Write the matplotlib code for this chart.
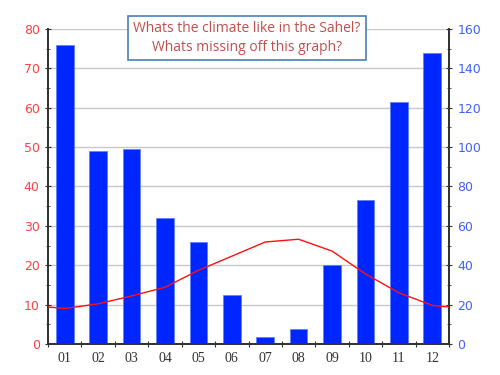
import matplotlib
matplotlib.use("Agg")
import matplotlib.pyplot as plt
import numpy as np
from matplotlib.ticker import MultipleLocator

months = ["01", "02", "03", "04", "05", "06", "07", "08", "09", "10", "11", "12"]
rainfall = [152, 98, 99, 64, 52, 25, 3.4, 7.5, 40, 73, 123, 148]
temperature = [9.0, 10.2, 12.2, 14.4, 18.7, 22.3, 25.9, 26.6, 23.6, 17.8, 13.0, 9.8]
title_lines = ["Whats the climate like in the Sahel?", "Whats missing off this graph?"]

fig = plt.figure(figsize=(5, 3.75), dpi=100)
ax = fig.add_axes([0.096, 0.0827, 0.802, 0.84])
ax2 = ax.twinx()

x = np.arange(len(months))
# bars on right axis
ax2.bar(x, rainfall, width=0.53, color="#0026ff", edgecolor="#6080ff", linewidth=0.6, zorder=2)
ax2.set_ylim(0, 160)
ax2.yaxis.set_major_locator(MultipleLocator(20))
ax2.yaxis.set_minor_locator(MultipleLocator(10))

# line on left axis; wraps to the plot edges using the Dec/Jan mean
edge = (temperature[0] + temperature[-1]) / 2
lx = np.concatenate([[-0.5], x, [len(months) - 0.5]])
ly = np.concatenate([[edge], temperature, [edge]])
ax.set_ylim(0, 80)
ax.yaxis.set_major_locator(MultipleLocator(10))
ax.yaxis.set_minor_locator(MultipleLocator(5))
ax.set_xlim(-0.5, len(months) - 0.5)
ax.grid(axis="y", color="#c8c8c8", linewidth=1.0)
ax.set_axisbelow(True)

# put line above bars: draw on ax2 transformed to left scale
ax2.plot(lx, np.array(ly) * 2, color="#ff1010", linewidth=1.0, zorder=3)

ax.set_xticks(np.arange(-0.5, len(months), 1.0))
ax.set_xticklabels([])
ax.set_xticks(x, minor=True)
ax.set_xticklabels(months, minor=True, fontfamily="Liberation Serif", fontsize=10, color="#333333")
ax.tick_params(axis="x", which="major", direction="inout", length=5, color="#333333")
ax.tick_params(axis="x", which="minor", length=0, pad=6)

ax.tick_params(axis="y", which="major", direction="inout", length=5, colors="#333333", labelcolor="#ff4040", labelsize=9)
ax.tick_params(axis="y", which="minor", direction="inout", length=3, color="#333333")
ax2.tick_params(axis="y", which="major", direction="inout", length=5, colors="#333333", labelcolor="#4060ff", labelsize=9)
ax2.tick_params(axis="y", which="minor", direction="inout", length=3, color="#333333")

for a in (ax, ax2):
    a.spines["top"].set_visible(False)
    a.spines["left"].set_color("#333333")
    a.spines["right"].set_color("#333333")
    a.spines["bottom"].set_color("#333333")
    a.spines["left"].set_linewidth(1.3)
    a.spines["right"].set_linewidth(1.3)
    a.spines["bottom"].set_linewidth(1.3)

fig.text(0.494, 0.899, "\n".join(title_lines), ha="center", va="center",
         fontfamily="Open Sans", fontsize=10, color="#c0504d", linespacing=1.35,
         bbox=dict(boxstyle="square,pad=0.35", facecolor="white", edgecolor="#4a7ebb", linewidth=1.2),
         zorder=10)

fig.savefig("out.png", dpi=100)
